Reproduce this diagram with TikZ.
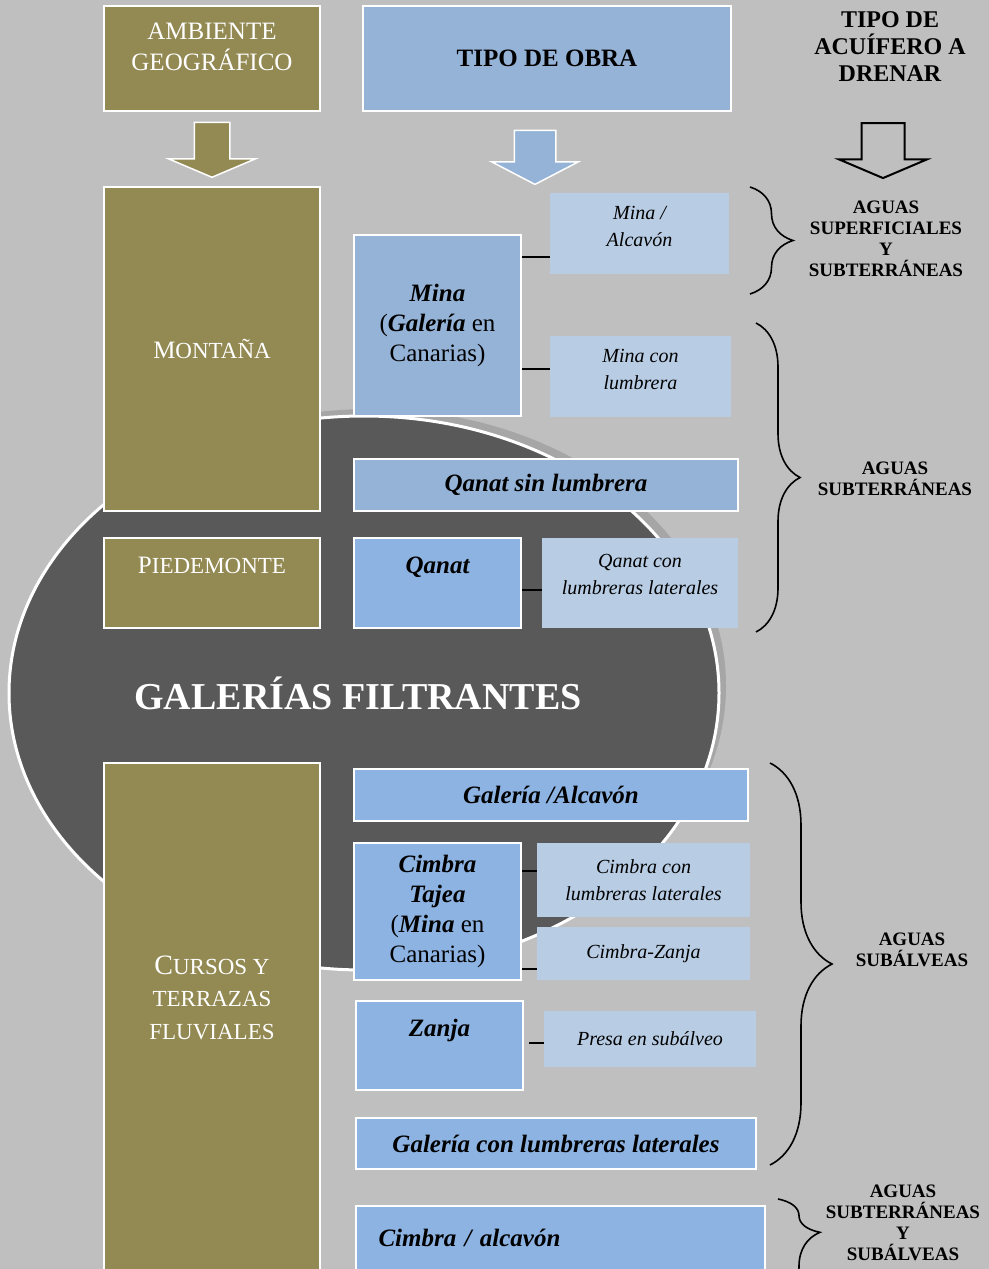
\documentclass[tikz,border=0pt]{standalone}
\usepackage{fontspec}
\setmainfont{Liberation Serif}
\usetikzlibrary{shapes,arrows,positioning,decorations.pathreplacing,shadows}
\definecolor{bgc}{HTML}{BFBFBF}
\definecolor{olivec}{HTML}{938953}
\definecolor{obrablue}{HTML}{95B3D7}
\definecolor{midblue}{HTML}{8DB3E2}
\definecolor{lightblue}{HTML}{B8CCE4}
\definecolor{ellgrey}{HTML}{595959}
\definecolor{shadowgrey}{HTML}{A6A6A6}
\newcommand{\smc}[1]{{\fontsize{11.5}{14}\selectfont #1}}
\newcommand{\bi}[1]{\textbf{\textit{#1}}}
\newcommand{\lift}[2]{\raisebox{#1}[0pt][0pt]{\begin{tabular}{@{}c@{}}#2\end{tabular}}}
\tikzset{
	olivebox/.style={draw=white, line width=1pt, fill=olivec, text=white, align=center, font=\fontsize{12.5}{15.5}\selectfont},
	obrabox/.style={draw=white, line width=1pt, fill=obrablue, align=center, font=\fontsize{12.5}{15}\selectfont},
	midbox/.style={draw=white, line width=1pt, fill=midblue, align=center, font=\fontsize{12.5}{15}\selectfont},
	lightbox/.style={fill=lightblue, align=center, font=\fontsize{10}{13.5}\selectfont\itshape},
	bracelabel/.style={align=center, font=\fontsize{9.5}{10.5}\selectfont\bfseries},
	link/.style={line width=1pt},
	bracket/.style={decorate, decoration={brace, amplitude=#1}, line width=0.8pt},
	blockarrow/.style={single arrow, rotate=-90, inner xsep=0pt, single arrow head indent=0pt, line width=0.75pt}
}
\begin{document}
\begin{tikzpicture}[x=0.5pt, y=-0.5pt]
	\useasboundingbox (0,0) rectangle (989,1269);
	\fill[bgc] (0,0) rectangle (989,1269);
	\clip (0,0) rectangle (989,1269);
	% Central ellipse
	\node[ellipse, fill=ellgrey, draw=white, line width=1.5pt, minimum width=355pt, minimum height=277pt,
		drop shadow={shadow xshift=3.5pt, shadow yshift=3.5pt, fill=shadowgrey, opacity=1},
		text=white, font=\fontsize{19}{22}\selectfont\bfseries] (galerias) at (364,693) {\hspace*{-6pt}GALERÍAS FILTRANTES};
	% Headers
	\node[olivebox, minimum width=108pt, minimum height=52.5pt] (ambiente) at (212,58.5) {\lift{2pt}{AMBIENTE\\GEOGRÁFICO}};
	\node[obrabox, minimum width=184pt, minimum height=52.5pt, font=\fontsize{12.5}{15}\selectfont\bfseries] (obra) at (547,58.5) {TIPO DE OBRA};
	\node[font=\fontsize{12}{13.5}\selectfont\bfseries, align=center] (acuifero) at (890,47) {TIPO DE\\ACUÍFERO A\\DRENAR};
	% Block arrows
	\node[blockarrow, fill=olivec, draw=white, minimum width=27.5pt, minimum height=27.5pt, inner ysep=8.5pt, single arrow head extend=12.75pt, single arrow tip angle=134] (flecha1) at (212,146) {};
	\node[blockarrow, fill=obrablue, draw=white, minimum width=27pt, minimum height=27pt, inner ysep=10pt, single arrow head extend=11.25pt, single arrow tip angle=125] (flecha2) at (535,152) {};
	\node[blockarrow, draw=black, line width=1pt, minimum width=27.5pt, minimum height=27.5pt, inner ysep=10.25pt, single arrow head extend=11.25pt, single arrow tip angle=134] (flecha3) at (883,146) {};
	% Geographic settings
	\node[olivebox, minimum width=108pt, minimum height=162pt] (montana) at (212,349) {M\smc{ONTAÑA}};
	\node[olivebox, minimum width=108pt, minimum height=45pt] (piedemonte) at (212,583) {\lift{5pt}{P\smc{IEDEMONTE}}};
	\node[olivebox, minimum width=108pt, minimum height=258.5pt, font=\fontsize{14}{16.25}\selectfont] (cursos) at (212,1021.5) {\lift{7pt}{C\smc{URSOS Y}\\\smc{TERRAZAS}\\\smc{FLUVIALES}}};
	% Works: mountain
	\node[obrabox, minimum width=83.5pt, minimum height=90.5pt] (mina) at (437.5,325.5) {\bi{Mina}\\(\bi{Galería} en\\Canarias)};
	\node[lightbox, minimum width=89.5pt, minimum height=40.5pt] (minaalc) at (639.5,233.5) {\lift{0.5pt}{Mina /\\Alcavón}};
	\node[lightbox, minimum width=90.5pt, minimum height=40.5pt] (minalum) at (640.5,376.5) {\lift{0.5pt}{Mina con\\lumbrera}};
	\node[obrabox, minimum width=192pt, minimum height=26pt, font=\fontsize{12.5}{15}\selectfont\bfseries\itshape] (qanatsin) at (546,485) {Qanat sin lumbrera};
	% Works: foothills
	\node[midbox, minimum width=83.5pt, minimum height=45pt, font=\fontsize{12.5}{15}\selectfont\bfseries\itshape] (qanat) at (437.5,583) {\lift{5pt}{Qanat}};
	\node[lightbox, minimum width=98pt, minimum height=45pt] (qanatlat) at (640,583) {\lift{1pt}{Qanat con\\lumbreras laterales}};
	% Works: river courses
	\node[midbox, minimum width=197pt, minimum height=26pt, font=\fontsize{12.5}{15}\selectfont\bfseries\itshape] (galalc) at (551,795) {Galería /Alcavón};
	\node[midbox, minimum width=83.5pt, minimum height=68.5pt] (cimbra) at (437.5,911.5) {\bi{Cimbra}\\\bi{Tajea}\\(\bi{Mina} en\\Canarias)};
	\node[lightbox, minimum width=106.5pt, minimum height=37pt] (cimbralat) at (643.5,880) {Cimbra con\\lumbreras laterales};
	\node[lightbox, minimum width=106.5pt, minimum height=26.5pt] (cimbrazanja) at (643.5,953.5) {Cimbra-Zanja};
	\node[midbox, minimum width=83.5pt, minimum height=44.5pt, font=\fontsize{12.5}{15}\selectfont\bfseries\itshape] (zanja) at (439.5,1045.5) {\lift{4.5pt}{Zanja}};
	\node[lightbox, minimum width=106pt, minimum height=28pt] (presa) at (650,1039) {Presa en subálveo};
	\node[midbox, minimum width=200pt, minimum height=25.5pt, font=\fontsize{12.5}{15}\selectfont\bfseries\itshape] (galcon) at (556,1143.5) {Galería con lumbreras laterales};
	\node[midbox, minimum height=39.5pt, text width=182pt, inner xsep=11.25pt, align=left, font=\fontsize{12.5}{15}\selectfont\bfseries\itshape] (cimalc) at (560.5,1245.5) {\raisebox{7.5pt}{Cimbra / alcavón}};
	% Connections
	\draw[link] ([yshift=34.25pt]mina.east) -- ([yshift=-11.75pt]minaalc.west);
	\draw[link] ([yshift=-21.75pt]mina.east) -- ([yshift=3.75pt]minalum.west);
	\draw[link] ([yshift=-3.5pt]qanat.east) -- ([yshift=-3.5pt]qanatlat.west);
	\draw[link] ([yshift=20.25pt]cimbra.east) -- ([yshift=4.5pt]cimbralat.west);
	\draw[link] ([yshift=-28.75pt]cimbra.east) -- ([yshift=-7.75pt]cimbrazanja.west);
	\draw[link, shorten <=2.5pt] ([yshift=1.25pt]zanja.east) -- ([yshift=-2pt]presa.west);
	% Aquifer braces
	\draw[bracket=21.5pt] (750,187) -- (750,294);
	\draw[bracket=22pt] (756,323) -- (756,632);
	\draw[bracket=31pt] (770,763) -- (770,1165);
	\draw[bracket=21pt, decoration={aspect=0.33}] (778,1199) -- (778,1300);
	% Labels
	\node[bracelabel] (superf) at (886,238.5) {AGUAS\\SUPERFICIALES\\Y\\SUBTERRÁNEAS};
	\node[bracelabel] (subter) at (895,478.5) {AGUAS\\SUBTERRÁNEAS};
	\node[bracelabel] (subalv) at (912,949.5) {AGUAS\\SUBÁLVEAS};
	\node[bracelabel] (mixta) at (903,1223) {AGUAS\\SUBTERRÁNEAS\\Y\\SUBÁLVEAS};
\end{tikzpicture}
\end{document}
